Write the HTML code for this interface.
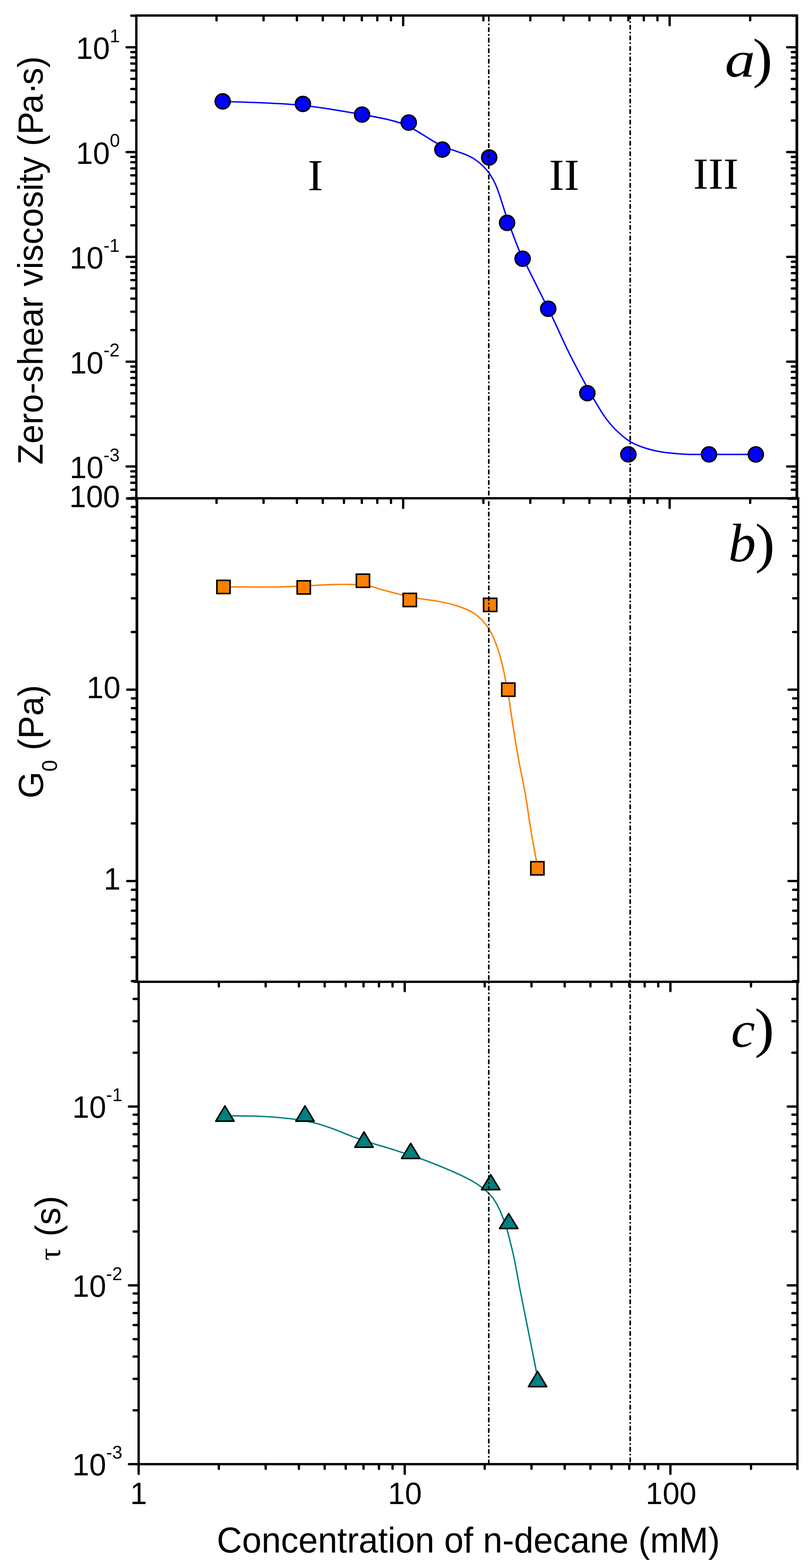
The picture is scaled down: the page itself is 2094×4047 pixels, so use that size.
<!DOCTYPE html>
<html lang="en"><head><meta charset="utf-8"><title>Rheology vs n-decane concentration</title>
<style>html,body{margin:0;padding:0;background:#fff}body{width:2094px;height:4047px;overflow:hidden}svg{display:block}text{fill:#000}</style>
</head><body>
<svg width="2094" height="4047" viewBox="0 0 2094 4047">
<rect x="0" y="0" width="2094" height="4047" fill="#fff"/>
<g fill="none" stroke-linejoin="round" stroke-linecap="round" stroke-width="3.7">
<path d="M575,261.6 C578.5,261.75 578.5,261.85 596,262.5 C613.5,263.15 652.5,264.25 680,265.5 C707.5,266.75 740.58,268.5 761,270 C781.42,271.5 788.5,272.75 802.5,274.5 C816.5,276.25 828.75,278 845,280.5 C861.25,283 881.83,286.42 900,289.5 C918.17,292.58 937.5,295.92 954,299 C970.5,302.08 985.5,304.83 999,308 C1012.5,311.17 1023.5,313.75 1035,318 C1046.5,322.25 1057.5,327.92 1068,333.5 C1078.5,339.08 1088,345.5 1098,351.5 C1108,357.5 1117,363.85 1128,369.5 C1139,375.15 1152,380.65 1164,385.4 C1176,390.15 1190,393.9 1200,398 C1210,402.1 1216.5,405.25 1224,410 C1231.5,414.75 1238.5,420.33 1245,426.5 C1251.5,432.67 1257.5,439.25 1263,447 C1268.5,454.75 1273.73,464.17 1278,473 C1282.27,481.83 1283.93,486.5 1288.6,500 C1293.27,513.5 1300.6,538 1306,554 C1311.4,570 1315,580 1321,596 C1327,612 1335.17,634.33 1342,650 C1348.83,665.67 1351.17,668.33 1362,690 C1372.83,711.67 1396.5,759 1407,780 C1417.5,801 1415.5,796 1425,816 C1434.5,836 1452.83,876.83 1464,900 C1475.17,923.17 1483.83,939.33 1492,955 C1500.17,970.67 1506,981.25 1513,994 C1520,1006.75 1526,1018 1534,1031.5 C1542,1045 1551.83,1062.17 1561,1075 C1570.17,1087.83 1578.33,1097.92 1589,1108.5 C1599.67,1119.08 1613.17,1130.83 1625,1138.5 C1636.83,1146.17 1646.67,1149.92 1660,1154.5 C1673.33,1159.08 1690,1163.25 1705,1166 C1720,1168.75 1737.5,1169.87 1750,1171 C1762.5,1172.13 1763.33,1172.48 1780,1172.8 C1796.67,1173.12 1821.42,1172.88 1850,1172.9 C1878.58,1172.92 1934.58,1172.9 1951.5,1172.9" stroke="#0000ff"/>
<path d="M577,1514.9 C589.17,1514.92 627.83,1514.98 650,1515 C672.17,1515.02 691,1515.27 710,1515 C729,1514.73 748.38,1514.02 764,1513.4 C779.62,1512.78 787.7,1512.1 803.7,1511.3 C819.7,1510.5 843.95,1509.1 860,1508.6 C876.05,1508.1 890.33,1508.2 900,1508.3 C909.67,1508.4 908.67,1508.35 918,1509.2 C927.33,1510.05 944,1511.1 956,1513.4 C968,1515.7 976.17,1519.3 990,1523 C1003.83,1526.7 1024.5,1532.1 1039,1535.6 C1053.5,1539.1 1062.67,1541.43 1077,1544 C1091.33,1546.57 1110.5,1548.5 1125,1551 C1139.5,1553.5 1151.5,1555.67 1164,1559 C1176.5,1562.33 1190,1567 1200,1571 C1210,1575 1216.5,1578 1224,1583 C1231.5,1588 1238.73,1594.5 1245,1601 C1251.27,1607.5 1256.43,1613.83 1261.6,1622 C1266.77,1630.17 1271.6,1639.83 1276,1650 C1280.4,1660.17 1284.5,1672 1288,1683 C1291.5,1694 1294.5,1706 1297,1716 C1299.5,1726 1301.5,1735.5 1303,1743 C1304.5,1750.5 1304.25,1751.73 1306,1761 C1307.75,1770.27 1310.5,1780.43 1313.5,1798.6 C1316.5,1816.77 1319.75,1843.1 1324,1870 C1328.25,1896.9 1333.6,1930 1339,1960 C1344.4,1990 1350.9,2018.33 1356.4,2050 C1361.9,2081.67 1367.23,2121.33 1372,2150 C1376.77,2178.67 1382.42,2206.82 1385,2222 C1387.58,2237.18 1387.08,2237.92 1387.5,2241.1" stroke="#ff8000"/>
<path d="M580.7,2880 C583.75,2880 586.45,2879.92 599,2880 C611.55,2880.08 637.5,2879.92 656,2880.5 C674.5,2881.08 692.38,2882.08 710,2883.5 C727.62,2884.92 744.53,2886.5 761.7,2889 C778.87,2891.5 796.62,2894.42 813,2898.5 C829.38,2902.58 845.5,2908.33 860,2913.5 C874.5,2918.67 889.33,2925.32 900,2929.5 C910.67,2933.68 913.5,2934.93 924,2938.6 C934.5,2942.27 950.5,2947.6 963,2951.5 C975.5,2955.4 986,2958 999,2962 C1012,2966 1026.5,2970.75 1041,2975.5 C1055.5,2980.25 1069.5,2984.5 1086,2990.5 C1102.5,2996.5 1123.5,3004.75 1140,3011.5 C1156.5,3018.25 1171,3024.42 1185,3031 C1199,3037.58 1214,3045.25 1224,3051 C1234,3056.75 1238.83,3060.83 1245,3065.5 C1251.17,3070.17 1255.83,3073.75 1261,3079 C1266.17,3084.25 1271.5,3090.5 1276,3097 C1280.5,3103.5 1284.5,3111 1288,3118 C1291.5,3125 1294.75,3133.5 1297,3139 C1299.25,3144.5 1299.5,3145.38 1301.5,3151 C1303.5,3156.62 1306.25,3163.2 1309,3172.7 C1311.75,3182.2 1314.83,3195.12 1318,3208 C1321.17,3220.88 1324,3230.5 1328,3250 C1332,3269.5 1337.17,3300 1342,3325 C1346.83,3350 1352,3375 1357,3400 C1362,3425 1367.33,3451.5 1372,3475 C1376.67,3498.5 1382.33,3525.83 1385,3541 C1387.67,3556.17 1387.5,3561.83 1388,3566" stroke="#008080"/>
</g>
<g fill="#0000ff" stroke="#000" stroke-width="4">
<circle cx="575" cy="261.6" r="19.3"/>
<circle cx="782.1" cy="268.2" r="19.3"/>
<circle cx="934.8" cy="295.7" r="19.3"/>
<circle cx="1055.4" cy="316.4" r="19.3"/>
<circle cx="1142.2" cy="386" r="19.3"/>
<circle cx="1263.1" cy="406.4" r="19.3"/>
<circle cx="1309.3" cy="575.1" r="19.3"/>
<circle cx="1349.4" cy="667.8" r="19.3"/>
<circle cx="1415.5" cy="796.9" r="19.3"/>
<circle cx="1516.5" cy="1014.7" r="19.3"/>
<circle cx="1622.5" cy="1172.8" r="19.3"/>
<circle cx="1830.6" cy="1172.8" r="19.3"/>
<circle cx="1951.5" cy="1172.9" r="19.3"/>
</g>
<g fill="#ff8000" stroke="#000" stroke-width="4" stroke-linejoin="miter">
<rect x="560" y="1497.9" width="34" height="34"/>
<rect x="767.3" y="1499" width="34" height="34"/>
<rect x="920.1" y="1481.9" width="34" height="34"/>
<rect x="1041.1" y="1531.5" width="34" height="34"/>
<rect x="1248.6" y="1544.2" width="34" height="34"/>
<rect x="1295.5" y="1763" width="34" height="34"/>
<rect x="1370.5" y="2224.1" width="34" height="34"/>
</g>
<g fill="#008080" stroke="#000" stroke-width="4" stroke-linejoin="round">
<polygon points="580.7,2854.2 604.3,2893.8 557.1,2893.8"/>
<polygon points="787.5,2854.2 811.1,2893.8 763.9,2893.8"/>
<polygon points="939.9,2921.6 963.5,2961 916.3,2961"/>
<polygon points="1060.5,2951 1084.1,2990 1036.9,2990"/>
<polygon points="1267,3031.8 1290.6,3070.5 1243.4,3070.5"/>
<polygon points="1313.5,3132.2 1337.1,3170.7 1289.9,3170.7"/>
<polygon points="1388,3539.7 1411.6,3579 1364.4,3579"/>
</g>
<g fill="none" stroke="#000" stroke-width="4.2" stroke-linecap="round" stroke-dasharray="9 8.6 0.8 8.785">
<path d="M1262,44.8 V3776"/>
<path d="M1627.2,39 V3776"/>
</g>
<g stroke="#000" fill="none" shape-rendering="crispEdges">
<line x1="352" y1="37" x2="352" y2="1294" stroke-width="6" stroke-linecap="butt"/>
<line x1="2057.5" y1="38" x2="2057.5" y2="1286" stroke-width="7" stroke-linecap="butt"/>
<line x1="349" y1="40" x2="2060" y2="40" stroke-width="6" stroke-linecap="butt"/>
<line x1="353.5" y1="1286" x2="353.5" y2="2534" stroke-width="7" stroke-linecap="butt"/>
<line x1="2061" y1="1284" x2="2061" y2="2535" stroke-width="6" stroke-linecap="butt"/>
<line x1="349" y1="1286" x2="2064" y2="1286" stroke-width="6" stroke-linecap="butt"/>
<line x1="358" y1="2534" x2="358" y2="3779" stroke-width="6" stroke-linecap="butt"/>
<line x1="2059" y1="2534" x2="2059" y2="3779" stroke-width="6" stroke-linecap="butt"/>
<line x1="350" y1="2534" x2="2064" y2="2534" stroke-width="6" stroke-linecap="butt"/>
<line x1="355" y1="3779" x2="2062" y2="3779" stroke-width="6" stroke-linecap="butt"/>
</g>
<g stroke="#000" fill="none">
<line x1="1041" y1="41" x2="1041" y2="65" stroke-width="6" stroke-linecap="round"/>
<line x1="1729" y1="41" x2="1729" y2="65" stroke-width="6" stroke-linecap="round"/>
<line x1="559.1" y1="41" x2="559.1" y2="52.5" stroke-width="6" stroke-linecap="round"/>
<line x1="680.5" y1="41" x2="680.5" y2="52.5" stroke-width="6" stroke-linecap="round"/>
<line x1="766.64" y1="41" x2="766.64" y2="52.5" stroke-width="6" stroke-linecap="round"/>
<line x1="833.46" y1="41" x2="833.46" y2="52.5" stroke-width="6" stroke-linecap="round"/>
<line x1="888.05" y1="41" x2="888.05" y2="52.5" stroke-width="6" stroke-linecap="round"/>
<line x1="934.2" y1="41" x2="934.2" y2="52.5" stroke-width="6" stroke-linecap="round"/>
<line x1="974.19" y1="41" x2="974.19" y2="52.5" stroke-width="6" stroke-linecap="round"/>
<line x1="1009.45" y1="41" x2="1009.45" y2="52.5" stroke-width="6" stroke-linecap="round"/>
<line x1="1248.11" y1="41" x2="1248.11" y2="52.5" stroke-width="6" stroke-linecap="round"/>
<line x1="1369.26" y1="41" x2="1369.26" y2="52.5" stroke-width="6" stroke-linecap="round"/>
<line x1="1455.22" y1="41" x2="1455.22" y2="52.5" stroke-width="6" stroke-linecap="round"/>
<line x1="1521.89" y1="41" x2="1521.89" y2="52.5" stroke-width="6" stroke-linecap="round"/>
<line x1="1576.37" y1="41" x2="1576.37" y2="52.5" stroke-width="6" stroke-linecap="round"/>
<line x1="1622.43" y1="41" x2="1622.43" y2="52.5" stroke-width="6" stroke-linecap="round"/>
<line x1="1662.33" y1="41" x2="1662.33" y2="52.5" stroke-width="6" stroke-linecap="round"/>
<line x1="1697.52" y1="41" x2="1697.52" y2="52.5" stroke-width="6" stroke-linecap="round"/>
<line x1="1937" y1="41" x2="1937" y2="52.5" stroke-width="6" stroke-linecap="round"/>
<line x1="1041" y1="1287" x2="1041" y2="1311" stroke-width="6" stroke-linecap="round"/>
<line x1="1729" y1="1287" x2="1729" y2="1311" stroke-width="6" stroke-linecap="round"/>
<line x1="559.1" y1="1287" x2="559.1" y2="1298" stroke-width="6" stroke-linecap="round"/>
<line x1="680.5" y1="1287" x2="680.5" y2="1298" stroke-width="6" stroke-linecap="round"/>
<line x1="766.64" y1="1287" x2="766.64" y2="1298" stroke-width="6" stroke-linecap="round"/>
<line x1="833.46" y1="1287" x2="833.46" y2="1298" stroke-width="6" stroke-linecap="round"/>
<line x1="888.05" y1="1287" x2="888.05" y2="1298" stroke-width="6" stroke-linecap="round"/>
<line x1="934.2" y1="1287" x2="934.2" y2="1298" stroke-width="6" stroke-linecap="round"/>
<line x1="974.19" y1="1287" x2="974.19" y2="1298" stroke-width="6" stroke-linecap="round"/>
<line x1="1009.45" y1="1287" x2="1009.45" y2="1298" stroke-width="6" stroke-linecap="round"/>
<line x1="1248.11" y1="1287" x2="1248.11" y2="1298" stroke-width="6" stroke-linecap="round"/>
<line x1="1369.26" y1="1287" x2="1369.26" y2="1298" stroke-width="6" stroke-linecap="round"/>
<line x1="1455.22" y1="1287" x2="1455.22" y2="1298" stroke-width="6" stroke-linecap="round"/>
<line x1="1521.89" y1="1287" x2="1521.89" y2="1298" stroke-width="6" stroke-linecap="round"/>
<line x1="1576.37" y1="1287" x2="1576.37" y2="1298" stroke-width="6" stroke-linecap="round"/>
<line x1="1622.43" y1="1287" x2="1622.43" y2="1298" stroke-width="6" stroke-linecap="round"/>
<line x1="1662.33" y1="1287" x2="1662.33" y2="1298" stroke-width="6" stroke-linecap="round"/>
<line x1="1697.52" y1="1287" x2="1697.52" y2="1298" stroke-width="6" stroke-linecap="round"/>
<line x1="1937" y1="1287" x2="1937" y2="1298" stroke-width="6" stroke-linecap="round"/>
<line x1="1045" y1="2535" x2="1045" y2="2558" stroke-width="6" stroke-linecap="round"/>
<line x1="1731" y1="2535" x2="1731" y2="2558" stroke-width="6" stroke-linecap="round"/>
<line x1="565" y1="2535" x2="565" y2="2546" stroke-width="6" stroke-linecap="round"/>
<line x1="685.93" y1="2535" x2="685.93" y2="2546" stroke-width="6" stroke-linecap="round"/>
<line x1="771.72" y1="2535" x2="771.72" y2="2546" stroke-width="6" stroke-linecap="round"/>
<line x1="838.28" y1="2535" x2="838.28" y2="2546" stroke-width="6" stroke-linecap="round"/>
<line x1="892.65" y1="2535" x2="892.65" y2="2546" stroke-width="6" stroke-linecap="round"/>
<line x1="938.62" y1="2535" x2="938.62" y2="2546" stroke-width="6" stroke-linecap="round"/>
<line x1="978.45" y1="2535" x2="978.45" y2="2546" stroke-width="6" stroke-linecap="round"/>
<line x1="1013.58" y1="2535" x2="1013.58" y2="2546" stroke-width="6" stroke-linecap="round"/>
<line x1="1251.51" y1="2535" x2="1251.51" y2="2546" stroke-width="6" stroke-linecap="round"/>
<line x1="1372.31" y1="2535" x2="1372.31" y2="2546" stroke-width="6" stroke-linecap="round"/>
<line x1="1458.01" y1="2535" x2="1458.01" y2="2546" stroke-width="6" stroke-linecap="round"/>
<line x1="1524.49" y1="2535" x2="1524.49" y2="2546" stroke-width="6" stroke-linecap="round"/>
<line x1="1578.81" y1="2535" x2="1578.81" y2="2546" stroke-width="6" stroke-linecap="round"/>
<line x1="1624.74" y1="2535" x2="1624.74" y2="2546" stroke-width="6" stroke-linecap="round"/>
<line x1="1664.52" y1="2535" x2="1664.52" y2="2546" stroke-width="6" stroke-linecap="round"/>
<line x1="1699.61" y1="2535" x2="1699.61" y2="2546" stroke-width="6" stroke-linecap="round"/>
<line x1="1939.1" y1="2535" x2="1939.1" y2="2546" stroke-width="6" stroke-linecap="round"/>
<line x1="1045" y1="3780" x2="1045" y2="3804" stroke-width="6" stroke-linecap="round"/>
<line x1="1731" y1="3780" x2="1731" y2="3804" stroke-width="6" stroke-linecap="round"/>
<line x1="565" y1="3780" x2="565" y2="3791" stroke-width="6" stroke-linecap="round"/>
<line x1="685.93" y1="3780" x2="685.93" y2="3791" stroke-width="6" stroke-linecap="round"/>
<line x1="771.72" y1="3780" x2="771.72" y2="3791" stroke-width="6" stroke-linecap="round"/>
<line x1="838.28" y1="3780" x2="838.28" y2="3791" stroke-width="6" stroke-linecap="round"/>
<line x1="892.65" y1="3780" x2="892.65" y2="3791" stroke-width="6" stroke-linecap="round"/>
<line x1="938.62" y1="3780" x2="938.62" y2="3791" stroke-width="6" stroke-linecap="round"/>
<line x1="978.45" y1="3780" x2="978.45" y2="3791" stroke-width="6" stroke-linecap="round"/>
<line x1="1013.58" y1="3780" x2="1013.58" y2="3791" stroke-width="6" stroke-linecap="round"/>
<line x1="1251.51" y1="3780" x2="1251.51" y2="3791" stroke-width="6" stroke-linecap="round"/>
<line x1="1372.31" y1="3780" x2="1372.31" y2="3791" stroke-width="6" stroke-linecap="round"/>
<line x1="1458.01" y1="3780" x2="1458.01" y2="3791" stroke-width="6" stroke-linecap="round"/>
<line x1="1524.49" y1="3780" x2="1524.49" y2="3791" stroke-width="6" stroke-linecap="round"/>
<line x1="1578.81" y1="3780" x2="1578.81" y2="3791" stroke-width="6" stroke-linecap="round"/>
<line x1="1624.74" y1="3780" x2="1624.74" y2="3791" stroke-width="6" stroke-linecap="round"/>
<line x1="1664.52" y1="3780" x2="1664.52" y2="3791" stroke-width="6" stroke-linecap="round"/>
<line x1="1699.61" y1="3780" x2="1699.61" y2="3791" stroke-width="6" stroke-linecap="round"/>
<line x1="1939.1" y1="3780" x2="1939.1" y2="3791" stroke-width="6" stroke-linecap="round"/>
<line x1="358" y1="3780" x2="358" y2="3804" stroke-width="6" stroke-linecap="round"/>
<line x1="2059" y1="3780" x2="2059" y2="3794" stroke-width="6" stroke-linecap="butt"/>
<line x1="351" y1="1204" x2="327" y2="1204" stroke-width="6" stroke-linecap="round"/>
<line x1="351" y1="933.5" x2="327" y2="933.5" stroke-width="6" stroke-linecap="round"/>
<line x1="351" y1="663" x2="327" y2="663" stroke-width="6" stroke-linecap="round"/>
<line x1="351" y1="392.5" x2="327" y2="392.5" stroke-width="6" stroke-linecap="round"/>
<line x1="351" y1="122" x2="327" y2="122" stroke-width="6" stroke-linecap="round"/>
<line x1="351" y1="1285.43" x2="339" y2="1285.43" stroke-width="6" stroke-linecap="round"/>
<line x1="351" y1="1264.01" x2="339" y2="1264.01" stroke-width="6" stroke-linecap="round"/>
<line x1="351" y1="1245.9" x2="339" y2="1245.9" stroke-width="6" stroke-linecap="round"/>
<line x1="351" y1="1230.21" x2="339" y2="1230.21" stroke-width="6" stroke-linecap="round"/>
<line x1="351" y1="1216.38" x2="339" y2="1216.38" stroke-width="6" stroke-linecap="round"/>
<line x1="351" y1="1122.57" x2="339" y2="1122.57" stroke-width="6" stroke-linecap="round"/>
<line x1="351" y1="1074.94" x2="339" y2="1074.94" stroke-width="6" stroke-linecap="round"/>
<line x1="351" y1="1041.14" x2="339" y2="1041.14" stroke-width="6" stroke-linecap="round"/>
<line x1="351" y1="1014.93" x2="339" y2="1014.93" stroke-width="6" stroke-linecap="round"/>
<line x1="351" y1="993.51" x2="339" y2="993.51" stroke-width="6" stroke-linecap="round"/>
<line x1="351" y1="975.4" x2="339" y2="975.4" stroke-width="6" stroke-linecap="round"/>
<line x1="351" y1="959.71" x2="339" y2="959.71" stroke-width="6" stroke-linecap="round"/>
<line x1="351" y1="945.88" x2="339" y2="945.88" stroke-width="6" stroke-linecap="round"/>
<line x1="351" y1="852.07" x2="339" y2="852.07" stroke-width="6" stroke-linecap="round"/>
<line x1="351" y1="804.44" x2="339" y2="804.44" stroke-width="6" stroke-linecap="round"/>
<line x1="351" y1="770.64" x2="339" y2="770.64" stroke-width="6" stroke-linecap="round"/>
<line x1="351" y1="744.43" x2="339" y2="744.43" stroke-width="6" stroke-linecap="round"/>
<line x1="351" y1="723.01" x2="339" y2="723.01" stroke-width="6" stroke-linecap="round"/>
<line x1="351" y1="704.9" x2="339" y2="704.9" stroke-width="6" stroke-linecap="round"/>
<line x1="351" y1="689.21" x2="339" y2="689.21" stroke-width="6" stroke-linecap="round"/>
<line x1="351" y1="675.38" x2="339" y2="675.38" stroke-width="6" stroke-linecap="round"/>
<line x1="351" y1="581.57" x2="339" y2="581.57" stroke-width="6" stroke-linecap="round"/>
<line x1="351" y1="533.94" x2="339" y2="533.94" stroke-width="6" stroke-linecap="round"/>
<line x1="351" y1="500.14" x2="339" y2="500.14" stroke-width="6" stroke-linecap="round"/>
<line x1="351" y1="473.93" x2="339" y2="473.93" stroke-width="6" stroke-linecap="round"/>
<line x1="351" y1="452.51" x2="339" y2="452.51" stroke-width="6" stroke-linecap="round"/>
<line x1="351" y1="434.4" x2="339" y2="434.4" stroke-width="6" stroke-linecap="round"/>
<line x1="351" y1="418.71" x2="339" y2="418.71" stroke-width="6" stroke-linecap="round"/>
<line x1="351" y1="404.88" x2="339" y2="404.88" stroke-width="6" stroke-linecap="round"/>
<line x1="351" y1="311.07" x2="339" y2="311.07" stroke-width="6" stroke-linecap="round"/>
<line x1="351" y1="263.44" x2="339" y2="263.44" stroke-width="6" stroke-linecap="round"/>
<line x1="351" y1="229.64" x2="339" y2="229.64" stroke-width="6" stroke-linecap="round"/>
<line x1="351" y1="203.43" x2="339" y2="203.43" stroke-width="6" stroke-linecap="round"/>
<line x1="351" y1="182.01" x2="339" y2="182.01" stroke-width="6" stroke-linecap="round"/>
<line x1="351" y1="163.9" x2="339" y2="163.9" stroke-width="6" stroke-linecap="round"/>
<line x1="351" y1="148.21" x2="339" y2="148.21" stroke-width="6" stroke-linecap="round"/>
<line x1="351" y1="134.38" x2="339" y2="134.38" stroke-width="6" stroke-linecap="round"/>
<line x1="351" y1="40.57" x2="339" y2="40.57" stroke-width="6" stroke-linecap="round"/>
<line x1="2056.5" y1="1204" x2="2032.5" y2="1204" stroke-width="6" stroke-linecap="round"/>
<line x1="2056.5" y1="933.5" x2="2032.5" y2="933.5" stroke-width="6" stroke-linecap="round"/>
<line x1="2056.5" y1="663" x2="2032.5" y2="663" stroke-width="6" stroke-linecap="round"/>
<line x1="2056.5" y1="392.5" x2="2032.5" y2="392.5" stroke-width="6" stroke-linecap="round"/>
<line x1="2056.5" y1="122" x2="2032.5" y2="122" stroke-width="6" stroke-linecap="round"/>
<line x1="2056.5" y1="1285.43" x2="2044.5" y2="1285.43" stroke-width="6" stroke-linecap="round"/>
<line x1="2056.5" y1="1264.01" x2="2044.5" y2="1264.01" stroke-width="6" stroke-linecap="round"/>
<line x1="2056.5" y1="1245.9" x2="2044.5" y2="1245.9" stroke-width="6" stroke-linecap="round"/>
<line x1="2056.5" y1="1230.21" x2="2044.5" y2="1230.21" stroke-width="6" stroke-linecap="round"/>
<line x1="2056.5" y1="1216.38" x2="2044.5" y2="1216.38" stroke-width="6" stroke-linecap="round"/>
<line x1="2056.5" y1="1122.57" x2="2044.5" y2="1122.57" stroke-width="6" stroke-linecap="round"/>
<line x1="2056.5" y1="1074.94" x2="2044.5" y2="1074.94" stroke-width="6" stroke-linecap="round"/>
<line x1="2056.5" y1="1041.14" x2="2044.5" y2="1041.14" stroke-width="6" stroke-linecap="round"/>
<line x1="2056.5" y1="1014.93" x2="2044.5" y2="1014.93" stroke-width="6" stroke-linecap="round"/>
<line x1="2056.5" y1="993.51" x2="2044.5" y2="993.51" stroke-width="6" stroke-linecap="round"/>
<line x1="2056.5" y1="975.4" x2="2044.5" y2="975.4" stroke-width="6" stroke-linecap="round"/>
<line x1="2056.5" y1="959.71" x2="2044.5" y2="959.71" stroke-width="6" stroke-linecap="round"/>
<line x1="2056.5" y1="945.88" x2="2044.5" y2="945.88" stroke-width="6" stroke-linecap="round"/>
<line x1="2056.5" y1="852.07" x2="2044.5" y2="852.07" stroke-width="6" stroke-linecap="round"/>
<line x1="2056.5" y1="804.44" x2="2044.5" y2="804.44" stroke-width="6" stroke-linecap="round"/>
<line x1="2056.5" y1="770.64" x2="2044.5" y2="770.64" stroke-width="6" stroke-linecap="round"/>
<line x1="2056.5" y1="744.43" x2="2044.5" y2="744.43" stroke-width="6" stroke-linecap="round"/>
<line x1="2056.5" y1="723.01" x2="2044.5" y2="723.01" stroke-width="6" stroke-linecap="round"/>
<line x1="2056.5" y1="704.9" x2="2044.5" y2="704.9" stroke-width="6" stroke-linecap="round"/>
<line x1="2056.5" y1="689.21" x2="2044.5" y2="689.21" stroke-width="6" stroke-linecap="round"/>
<line x1="2056.5" y1="675.38" x2="2044.5" y2="675.38" stroke-width="6" stroke-linecap="round"/>
<line x1="2056.5" y1="581.57" x2="2044.5" y2="581.57" stroke-width="6" stroke-linecap="round"/>
<line x1="2056.5" y1="533.94" x2="2044.5" y2="533.94" stroke-width="6" stroke-linecap="round"/>
<line x1="2056.5" y1="500.14" x2="2044.5" y2="500.14" stroke-width="6" stroke-linecap="round"/>
<line x1="2056.5" y1="473.93" x2="2044.5" y2="473.93" stroke-width="6" stroke-linecap="round"/>
<line x1="2056.5" y1="452.51" x2="2044.5" y2="452.51" stroke-width="6" stroke-linecap="round"/>
<line x1="2056.5" y1="434.4" x2="2044.5" y2="434.4" stroke-width="6" stroke-linecap="round"/>
<line x1="2056.5" y1="418.71" x2="2044.5" y2="418.71" stroke-width="6" stroke-linecap="round"/>
<line x1="2056.5" y1="404.88" x2="2044.5" y2="404.88" stroke-width="6" stroke-linecap="round"/>
<line x1="2056.5" y1="311.07" x2="2044.5" y2="311.07" stroke-width="6" stroke-linecap="round"/>
<line x1="2056.5" y1="263.44" x2="2044.5" y2="263.44" stroke-width="6" stroke-linecap="round"/>
<line x1="2056.5" y1="229.64" x2="2044.5" y2="229.64" stroke-width="6" stroke-linecap="round"/>
<line x1="2056.5" y1="203.43" x2="2044.5" y2="203.43" stroke-width="6" stroke-linecap="round"/>
<line x1="2056.5" y1="182.01" x2="2044.5" y2="182.01" stroke-width="6" stroke-linecap="round"/>
<line x1="2056.5" y1="163.9" x2="2044.5" y2="163.9" stroke-width="6" stroke-linecap="round"/>
<line x1="2056.5" y1="148.21" x2="2044.5" y2="148.21" stroke-width="6" stroke-linecap="round"/>
<line x1="2056.5" y1="134.38" x2="2044.5" y2="134.38" stroke-width="6" stroke-linecap="round"/>
<line x1="2056.5" y1="40.57" x2="2044.5" y2="40.57" stroke-width="6" stroke-linecap="round"/>
<line x1="352.5" y1="2274" x2="328.5" y2="2274" stroke-width="6" stroke-linecap="round"/>
<line x1="352.5" y1="1780" x2="328.5" y2="1780" stroke-width="6" stroke-linecap="round"/>
<line x1="352.5" y1="2532.3" x2="340.5" y2="2532.3" stroke-width="6" stroke-linecap="round"/>
<line x1="352.5" y1="2470.58" x2="340.5" y2="2470.58" stroke-width="6" stroke-linecap="round"/>
<line x1="352.5" y1="2422.71" x2="340.5" y2="2422.71" stroke-width="6" stroke-linecap="round"/>
<line x1="352.5" y1="2383.59" x2="340.5" y2="2383.59" stroke-width="6" stroke-linecap="round"/>
<line x1="352.5" y1="2350.52" x2="340.5" y2="2350.52" stroke-width="6" stroke-linecap="round"/>
<line x1="352.5" y1="2321.87" x2="340.5" y2="2321.87" stroke-width="6" stroke-linecap="round"/>
<line x1="352.5" y1="2296.6" x2="340.5" y2="2296.6" stroke-width="6" stroke-linecap="round"/>
<line x1="352.5" y1="2125.29" x2="340.5" y2="2125.29" stroke-width="6" stroke-linecap="round"/>
<line x1="352.5" y1="2038.3" x2="340.5" y2="2038.3" stroke-width="6" stroke-linecap="round"/>
<line x1="352.5" y1="1976.58" x2="340.5" y2="1976.58" stroke-width="6" stroke-linecap="round"/>
<line x1="352.5" y1="1928.71" x2="340.5" y2="1928.71" stroke-width="6" stroke-linecap="round"/>
<line x1="352.5" y1="1889.59" x2="340.5" y2="1889.59" stroke-width="6" stroke-linecap="round"/>
<line x1="352.5" y1="1856.52" x2="340.5" y2="1856.52" stroke-width="6" stroke-linecap="round"/>
<line x1="352.5" y1="1827.87" x2="340.5" y2="1827.87" stroke-width="6" stroke-linecap="round"/>
<line x1="352.5" y1="1802.6" x2="340.5" y2="1802.6" stroke-width="6" stroke-linecap="round"/>
<line x1="352.5" y1="1631.29" x2="340.5" y2="1631.29" stroke-width="6" stroke-linecap="round"/>
<line x1="352.5" y1="1544.3" x2="340.5" y2="1544.3" stroke-width="6" stroke-linecap="round"/>
<line x1="352.5" y1="1482.58" x2="340.5" y2="1482.58" stroke-width="6" stroke-linecap="round"/>
<line x1="352.5" y1="1434.71" x2="340.5" y2="1434.71" stroke-width="6" stroke-linecap="round"/>
<line x1="352.5" y1="1395.59" x2="340.5" y2="1395.59" stroke-width="6" stroke-linecap="round"/>
<line x1="352.5" y1="1362.52" x2="340.5" y2="1362.52" stroke-width="6" stroke-linecap="round"/>
<line x1="352.5" y1="1333.87" x2="340.5" y2="1333.87" stroke-width="6" stroke-linecap="round"/>
<line x1="352.5" y1="1308.6" x2="340.5" y2="1308.6" stroke-width="6" stroke-linecap="round"/>
<line x1="2060" y1="2274" x2="2036" y2="2274" stroke-width="6" stroke-linecap="round"/>
<line x1="2060" y1="1780" x2="2036" y2="1780" stroke-width="6" stroke-linecap="round"/>
<line x1="2060" y1="2532.3" x2="2048" y2="2532.3" stroke-width="6" stroke-linecap="round"/>
<line x1="2060" y1="2470.58" x2="2048" y2="2470.58" stroke-width="6" stroke-linecap="round"/>
<line x1="2060" y1="2422.71" x2="2048" y2="2422.71" stroke-width="6" stroke-linecap="round"/>
<line x1="2060" y1="2383.59" x2="2048" y2="2383.59" stroke-width="6" stroke-linecap="round"/>
<line x1="2060" y1="2350.52" x2="2048" y2="2350.52" stroke-width="6" stroke-linecap="round"/>
<line x1="2060" y1="2321.87" x2="2048" y2="2321.87" stroke-width="6" stroke-linecap="round"/>
<line x1="2060" y1="2296.6" x2="2048" y2="2296.6" stroke-width="6" stroke-linecap="round"/>
<line x1="2060" y1="2125.29" x2="2048" y2="2125.29" stroke-width="6" stroke-linecap="round"/>
<line x1="2060" y1="2038.3" x2="2048" y2="2038.3" stroke-width="6" stroke-linecap="round"/>
<line x1="2060" y1="1976.58" x2="2048" y2="1976.58" stroke-width="6" stroke-linecap="round"/>
<line x1="2060" y1="1928.71" x2="2048" y2="1928.71" stroke-width="6" stroke-linecap="round"/>
<line x1="2060" y1="1889.59" x2="2048" y2="1889.59" stroke-width="6" stroke-linecap="round"/>
<line x1="2060" y1="1856.52" x2="2048" y2="1856.52" stroke-width="6" stroke-linecap="round"/>
<line x1="2060" y1="1827.87" x2="2048" y2="1827.87" stroke-width="6" stroke-linecap="round"/>
<line x1="2060" y1="1802.6" x2="2048" y2="1802.6" stroke-width="6" stroke-linecap="round"/>
<line x1="2060" y1="1631.29" x2="2048" y2="1631.29" stroke-width="6" stroke-linecap="round"/>
<line x1="2060" y1="1544.3" x2="2048" y2="1544.3" stroke-width="6" stroke-linecap="round"/>
<line x1="2060" y1="1482.58" x2="2048" y2="1482.58" stroke-width="6" stroke-linecap="round"/>
<line x1="2060" y1="1434.71" x2="2048" y2="1434.71" stroke-width="6" stroke-linecap="round"/>
<line x1="2060" y1="1395.59" x2="2048" y2="1395.59" stroke-width="6" stroke-linecap="round"/>
<line x1="2060" y1="1362.52" x2="2048" y2="1362.52" stroke-width="6" stroke-linecap="round"/>
<line x1="2060" y1="1333.87" x2="2048" y2="1333.87" stroke-width="6" stroke-linecap="round"/>
<line x1="2060" y1="1308.6" x2="2048" y2="1308.6" stroke-width="6" stroke-linecap="round"/>
<line x1="357" y1="3779" x2="333" y2="3779" stroke-width="6" stroke-linecap="round"/>
<line x1="357" y1="3317.5" x2="333" y2="3317.5" stroke-width="6" stroke-linecap="round"/>
<line x1="357" y1="2856" x2="333" y2="2856" stroke-width="6" stroke-linecap="round"/>
<line x1="357" y1="3640.07" x2="345" y2="3640.07" stroke-width="6" stroke-linecap="round"/>
<line x1="357" y1="3558.81" x2="345" y2="3558.81" stroke-width="6" stroke-linecap="round"/>
<line x1="357" y1="3501.15" x2="345" y2="3501.15" stroke-width="6" stroke-linecap="round"/>
<line x1="357" y1="3456.43" x2="345" y2="3456.43" stroke-width="6" stroke-linecap="round"/>
<line x1="357" y1="3419.88" x2="345" y2="3419.88" stroke-width="6" stroke-linecap="round"/>
<line x1="357" y1="3388.99" x2="345" y2="3388.99" stroke-width="6" stroke-linecap="round"/>
<line x1="357" y1="3362.22" x2="345" y2="3362.22" stroke-width="6" stroke-linecap="round"/>
<line x1="357" y1="3338.62" x2="345" y2="3338.62" stroke-width="6" stroke-linecap="round"/>
<line x1="357" y1="3178.57" x2="345" y2="3178.57" stroke-width="6" stroke-linecap="round"/>
<line x1="357" y1="3097.31" x2="345" y2="3097.31" stroke-width="6" stroke-linecap="round"/>
<line x1="357" y1="3039.65" x2="345" y2="3039.65" stroke-width="6" stroke-linecap="round"/>
<line x1="357" y1="2994.93" x2="345" y2="2994.93" stroke-width="6" stroke-linecap="round"/>
<line x1="357" y1="2958.38" x2="345" y2="2958.38" stroke-width="6" stroke-linecap="round"/>
<line x1="357" y1="2927.49" x2="345" y2="2927.49" stroke-width="6" stroke-linecap="round"/>
<line x1="357" y1="2900.72" x2="345" y2="2900.72" stroke-width="6" stroke-linecap="round"/>
<line x1="357" y1="2877.12" x2="345" y2="2877.12" stroke-width="6" stroke-linecap="round"/>
<line x1="357" y1="2717.07" x2="345" y2="2717.07" stroke-width="6" stroke-linecap="round"/>
<line x1="357" y1="2635.81" x2="345" y2="2635.81" stroke-width="6" stroke-linecap="round"/>
<line x1="357" y1="2578.15" x2="345" y2="2578.15" stroke-width="6" stroke-linecap="round"/>
<line x1="357" y1="2533.43" x2="345" y2="2533.43" stroke-width="6" stroke-linecap="round"/>
<line x1="2058" y1="3779" x2="2034" y2="3779" stroke-width="6" stroke-linecap="round"/>
<line x1="2058" y1="3317.5" x2="2034" y2="3317.5" stroke-width="6" stroke-linecap="round"/>
<line x1="2058" y1="2856" x2="2034" y2="2856" stroke-width="6" stroke-linecap="round"/>
<line x1="2058" y1="3640.07" x2="2046" y2="3640.07" stroke-width="6" stroke-linecap="round"/>
<line x1="2058" y1="3558.81" x2="2046" y2="3558.81" stroke-width="6" stroke-linecap="round"/>
<line x1="2058" y1="3501.15" x2="2046" y2="3501.15" stroke-width="6" stroke-linecap="round"/>
<line x1="2058" y1="3456.43" x2="2046" y2="3456.43" stroke-width="6" stroke-linecap="round"/>
<line x1="2058" y1="3419.88" x2="2046" y2="3419.88" stroke-width="6" stroke-linecap="round"/>
<line x1="2058" y1="3388.99" x2="2046" y2="3388.99" stroke-width="6" stroke-linecap="round"/>
<line x1="2058" y1="3362.22" x2="2046" y2="3362.22" stroke-width="6" stroke-linecap="round"/>
<line x1="2058" y1="3338.62" x2="2046" y2="3338.62" stroke-width="6" stroke-linecap="round"/>
<line x1="2058" y1="3178.57" x2="2046" y2="3178.57" stroke-width="6" stroke-linecap="round"/>
<line x1="2058" y1="3097.31" x2="2046" y2="3097.31" stroke-width="6" stroke-linecap="round"/>
<line x1="2058" y1="3039.65" x2="2046" y2="3039.65" stroke-width="6" stroke-linecap="round"/>
<line x1="2058" y1="2994.93" x2="2046" y2="2994.93" stroke-width="6" stroke-linecap="round"/>
<line x1="2058" y1="2958.38" x2="2046" y2="2958.38" stroke-width="6" stroke-linecap="round"/>
<line x1="2058" y1="2927.49" x2="2046" y2="2927.49" stroke-width="6" stroke-linecap="round"/>
<line x1="2058" y1="2900.72" x2="2046" y2="2900.72" stroke-width="6" stroke-linecap="round"/>
<line x1="2058" y1="2877.12" x2="2046" y2="2877.12" stroke-width="6" stroke-linecap="round"/>
<line x1="2058" y1="2717.07" x2="2046" y2="2717.07" stroke-width="6" stroke-linecap="round"/>
<line x1="2058" y1="2635.81" x2="2046" y2="2635.81" stroke-width="6" stroke-linecap="round"/>
<line x1="2058" y1="2578.15" x2="2046" y2="2578.15" stroke-width="6" stroke-linecap="round"/>
<line x1="2058" y1="2533.43" x2="2046" y2="2533.43" stroke-width="6" stroke-linecap="round"/>
<line x1="352.5" y1="1286.5" x2="328.5" y2="1286.5" stroke-width="7" stroke-linecap="round"/>
<line x1="2060" y1="1286.5" x2="2036" y2="1286.5" stroke-width="7" stroke-linecap="round"/>
</g>
<text transform="translate(196.23,152) scale(1,1.02)" font-family='"Liberation Sans", sans-serif' font-size="78.5">10<tspan font-size="47.0" dy="-42.35">1</tspan></text>
<text transform="translate(196.23,422.5) scale(1,1.02)" font-family='"Liberation Sans", sans-serif' font-size="78.5">10<tspan font-size="47.0" dy="-42.35">0</tspan></text>
<text transform="translate(179.93,693) scale(1,1.02)" font-family='"Liberation Sans", sans-serif' font-size="78.5">10<tspan font-size="47.0" dy="-42.35">-1</tspan></text>
<text transform="translate(179.93,963.5) scale(1,1.02)" font-family='"Liberation Sans", sans-serif' font-size="78.5">10<tspan font-size="47.0" dy="-42.35">-2</tspan></text>
<text transform="translate(179.93,1234) scale(1,1.02)" font-family='"Liberation Sans", sans-serif' font-size="78.5">10<tspan font-size="47.0" dy="-42.35">-3</tspan></text>
<text transform="translate(178.73,1308.5) scale(1,1.02)" font-family='"Liberation Sans", sans-serif' font-size="78.5" text-anchor="start">100</text>
<text transform="translate(223.83,1802.3) scale(1,1.02)" font-family='"Liberation Sans", sans-serif' font-size="78.5" text-anchor="start">10</text>
<text transform="translate(267.63,2296) scale(1,1.02)" font-family='"Liberation Sans", sans-serif' font-size="78.5" text-anchor="start">1</text>
<text transform="translate(186.83,2885.3) scale(1,1.02)" font-family='"Liberation Sans", sans-serif' font-size="78.5">10<tspan font-size="47.0" dy="-42.35">-1</tspan></text>
<text transform="translate(186.83,3346.8) scale(1,1.02)" font-family='"Liberation Sans", sans-serif' font-size="78.5">10<tspan font-size="47.0" dy="-42.35">-2</tspan></text>
<text transform="translate(186.83,3808.3) scale(1,1.02)" font-family='"Liberation Sans", sans-serif' font-size="78.5">10<tspan font-size="47.0" dy="-42.35">-3</tspan></text>
<text transform="translate(357.9,3882) scale(1,1.02)" font-family='"Liberation Sans", sans-serif' font-size="78.5" text-anchor="middle">1</text>
<text transform="translate(1045.4,3882) scale(1,1.02)" font-family='"Liberation Sans", sans-serif' font-size="78.5" text-anchor="middle">10</text>
<text transform="translate(1732.7,3882) scale(1,1.02)" font-family='"Liberation Sans", sans-serif' font-size="78.5" text-anchor="middle">100</text>
<text transform="translate(1209.3,4007) scale(1,1.02)" font-family='"Liberation Sans", sans-serif' font-size="90.25" text-anchor="middle">Concentration of n-decane (mM)</text>
<text transform="translate(110.2,1199.3) rotate(-90) scale(1,1.015)" font-family='"Liberation Sans", sans-serif' font-size="88.7" text-anchor="start">Zero-shear<tspan dx="1.6"> viscosity</tspan><tspan dx="2.4"> (P</tspan><tspan dx="-4">a·</tspan><tspan dx="-5.5">s)</tspan></text>
<text transform="translate(111,2060.8) rotate(-90) scale(1,1.015)" font-family='"Liberation Sans", sans-serif' font-size="89.2">G<tspan font-size="54" dy="34.98">0</tspan><tspan dy="-34.98"> (Pa)</tspan></text>
<text transform="translate(154.6,3253.6) rotate(-90)" font-family='"Liberation Sans", sans-serif' font-size="90"><tspan font-family='"Liberation Serif", serif' font-size="81">τ</tspan><tspan dx="4.5"> (s)</tspan></text>
<text transform="translate(794.77,491.3) scale(1.03,1)" font-family='"Liberation Serif", serif' font-size="114.0">I</text>
<text transform="translate(1417.57,489.8) scale(1.03,1)" font-family='"Liberation Serif", serif' font-size="114.0">II</text>
<text transform="translate(1789.67,487.4) scale(1.03,1)" font-family='"Liberation Serif", serif' font-size="114.0">III</text>
<text font-family='"Liberation Serif", serif' font-size="141"><tspan x="1871.43" y="198.32" font-style="italic" font-size="131.33" textLength="78.48" lengthAdjust="spacingAndGlyphs">a</tspan><tspan x="1943.54" y="198" textLength="51.21" lengthAdjust="spacingAndGlyphs">)</tspan></text>
<text font-family='"Liberation Serif", serif' font-size="141"><tspan x="1880.51" y="1448.94" font-style="italic" font-size="139.42" textLength="71.31" lengthAdjust="spacingAndGlyphs">b</tspan><tspan x="1949.56" y="1450" textLength="51.09" lengthAdjust="spacingAndGlyphs">)</tspan></text>
<text font-family='"Liberation Serif", serif' font-size="141"><tspan x="1887.6" y="2701.72" font-style="italic" font-size="130.99" textLength="62.11" lengthAdjust="spacingAndGlyphs">c</tspan><tspan x="1948.38" y="2701.4" textLength="50.83" lengthAdjust="spacingAndGlyphs">)</tspan></text>
</svg>
</body></html>
